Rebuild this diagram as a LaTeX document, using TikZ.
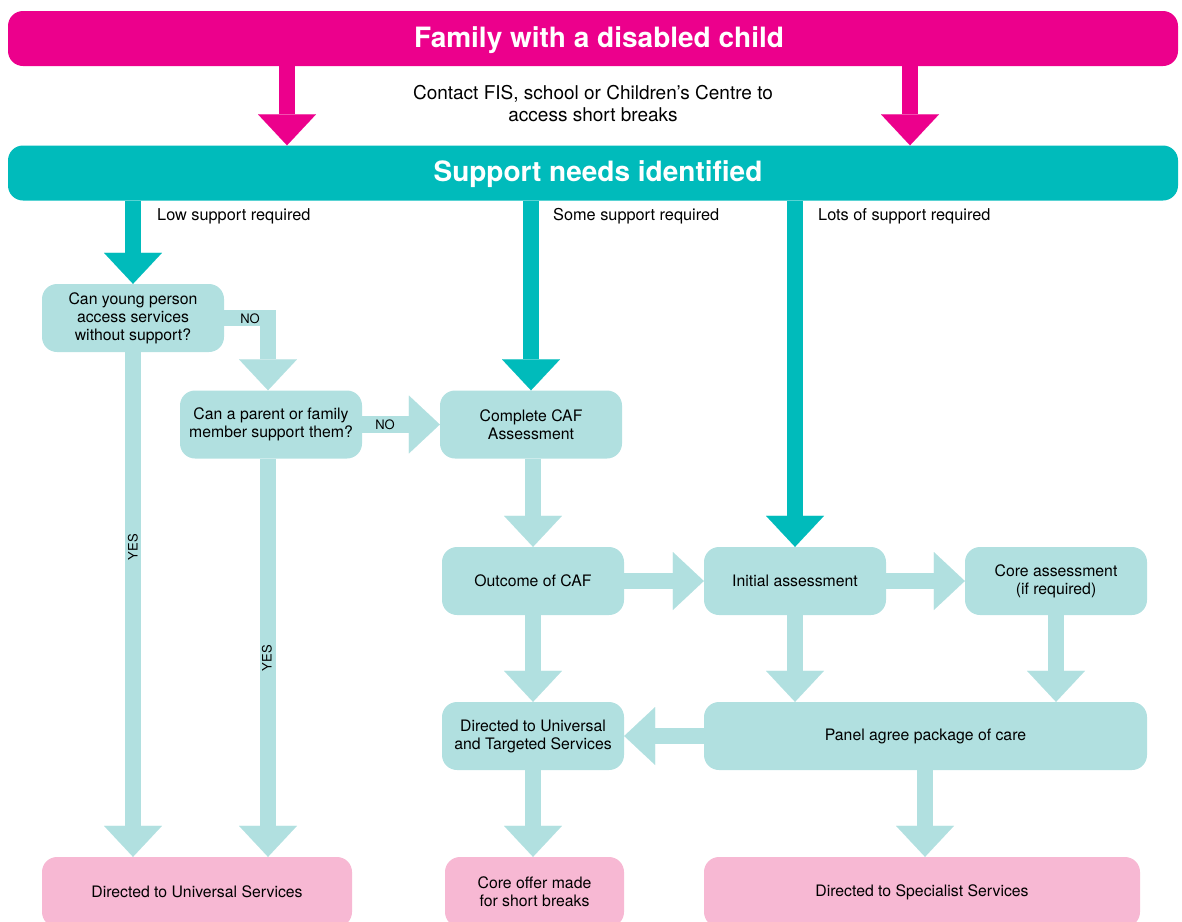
\documentclass[tikz,border=0pt]{standalone}
\usepackage{fontspec}
\setmainfont{TeX Gyre Heros}
\usetikzlibrary{arrows.meta}

\definecolor{famred}{HTML}{EC008C}
\definecolor{supteal}{HTML}{00BBBB}
\definecolor{boxteal}{HTML}{B1E0E0}
\definecolor{endpink}{HTML}{F7B8D3}

\begin{document}
\begin{tikzpicture}[x=1pt, y=-1pt,
    bar/.style={rounded corners=15pt, minimum width=1170pt, minimum height=55pt, inner sep=0pt, text height=17pt, text depth=0pt, text=white, font=\bfseries\fontsize{28}{32}\selectfont},
    box/.style={fill=boxteal, rounded corners=15pt, minimum width=182pt, minimum height=68pt, inner sep=0pt, align=center, font=\fontsize{15.8}{18}\selectfont},
    endbox/.style={box, fill=endpink, minimum height=70pt},
    fat/.style={line width=16.5pt, -{Triangle[width=58pt, length=31pt, line width=0.01pt]}},
    lbl/.style={anchor=west, inner sep=0pt, font=\fontsize{16.3}{19}\selectfont},
    small/.style={inner sep=0pt, font=\fontsize{13}{15}\selectfont}]
        \useasboundingbox (0,0) rectangle (1182,921);
        % the two bars
        \node[bar, fill=famred] (F) at (593,38.5) {\hspace*{12pt}Family with a disabled child};
        \node[align=center, font=\fontsize{19}{22}\selectfont] (T) at (593,104) {Contact FIS, school or Children's Centre to\\access short breaks};
        \node[bar, fill=supteal] (S) at (593,173) {\hspace*{10pt}Support needs identified};
        % boxes
        \node[box] (Q1) at (133,318) {Can young person\\access services\\without support?};
        \node[box] (Q2) at (271,424.5) {Can a parent or family\\member support them?};
        \node[box] (CAF) at (531,424.5) {Complete CAF\\Assessment};
        \node[box] (OC) at (533,581) {Outcome of CAF};
        \node[box] (IA) at (795,581) {Initial assessment};
        \node[box] (CA) at (1056,581) {Core assessment\\(if required)};
        \node[box] (DT) at (533,736) {Directed to Universal\\and Targeted Services};
        \node[box, minimum width=443pt] (P) at (925.5,736) {Panel agree package of care};
        \node[endbox, minimum width=310pt] (DU) at (197,892) {Directed to Universal Services};
        \node[endbox, minimum width=179pt] (CO) at (534.5,892) {Core offer made\\for short breaks};
        \node[endbox, minimum width=436pt] (DS) at (922,892) {Directed to Specialist Services};
        \coordinate (m1) at (287,0);
        \coordinate (m2) at (910,0);
        \coordinate (c2) at (268,0);
        \coordinate (c3) at (925,0);
        % arrows
        \draw[fat, famred] (F.south -| m1) -- (S.north -| m1);
        \draw[fat, famred] (F.south -| m2) -- (S.north -| m2);
        \draw[fat, supteal] (S.south -| Q1) -- (Q1.north);
        \draw[fat, supteal] (S.south -| CAF) -- (CAF.north);
        \draw[fat, supteal] (S.south -| IA) -- (IA.north);
        \draw[fat, boxteal] (Q1.east) -| (Q2.north -| c2);
        \draw[fat, boxteal] (Q2.east) -- (CAF.west);
        \draw[fat, boxteal] (Q1.south) -- (DU.north -| Q1);
        \draw[fat, boxteal] (Q2.south -| c2) -- (DU.north -| c2);
        \draw[fat, boxteal] (CAF.south -| OC) -- (OC.north);
        \draw[fat, boxteal] (OC.east) -- (IA.west);
        \draw[fat, boxteal] (IA.east) -- (CA.west);
        \draw[fat, boxteal] (OC.south) -- (DT.north);
        \draw[fat, boxteal] (IA.south) -- (P.north -| IA);
        \draw[fat, boxteal] (CA.south) -- (P.north -| CA);
        \draw[fat, boxteal] (P.west) -- (DT.east);
        \draw[fat, boxteal] (DT.south) -- (CO.north -| DT);
        \draw[fat, boxteal] (P.south -| c3) -- (DS.north -| c3);
        % labels
        \node[lbl] (L1) at (157,216) {Low support required};
        \node[lbl] (L2) at (553,216) {Some support required};
        \node[lbl] (L3) at (818,216) {Lots of support required};
        \node[small] (N1) at (250,319) {NO};
        \node[small] (N2) at (385,425) {NO};
        \node[small, rotate=90] (Y1) at (133,547) {YES};
        \node[small, rotate=90] (Y2) at (267,658) {YES};
\end{tikzpicture}
\end{document}
